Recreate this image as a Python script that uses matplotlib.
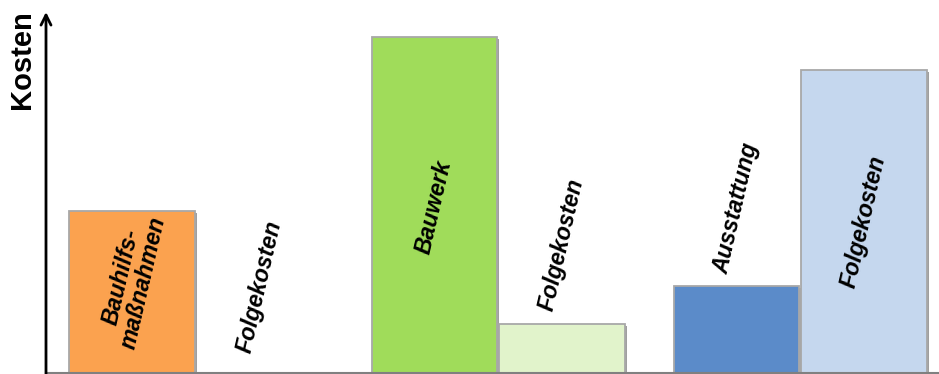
import matplotlib
matplotlib.use("Agg")
import matplotlib.pyplot as plt
import matplotlib.patheffects as pe

plt.rcParams['font.family'] = ['Liberation Sans', 'DejaVu Sans']

# Data
labels = ["Bauhilfs-\nmaßnahmen", "Folgekosten", "Bauwerk", "Folgekosten", "Ausstattung", "Folgekosten"]
values = [45, 0, 93, 13.5, 24, 84]
colors = ["#FBA24F", "#FFFFFF", "#A0DC5A", "#E1F3CB", "#5B8BC9", "#C5D7EE"]
label_y = [25.8, 24.0, 46.0, 35.5, 45.7, 41.8]
groups = [0, 0, 1, 1, 2, 2]
members = [0, 1, 0, 1, 0, 1]

group_gap = 2.36
positions = [g * group_gap + m for g, m in zip(groups, members)]

fig = plt.figure(figsize=(9.39, 3.74), dpi=100)
ax = fig.add_axes([46/939, 1/374, (939-46)/939, 361/374])

for x, v, c in zip(positions, values, colors):
    if v > 0:
        ax.bar(x, v, width=0.977, color=c, edgecolor="#A8A8A8", linewidth=1.3,
               path_effects=[pe.SimplePatchShadow(offset=(1.5, -1.5), shadow_rgbFace="#606060", alpha=0.6),
                             pe.Normal()], zorder=2)

for x, ly, lab in zip(positions, label_y, labels):
    ax.text(x, ly, lab, rotation=77, ha="center", va="center", fontsize=16.5,
            fontweight="bold", fontstyle="italic", color="black",
            linespacing=1.0, rotation_mode="anchor", zorder=3)

ax.set_xlim(-0.672, positions[-1] + 0.586)
ax.set_ylim(0, 100)

for s in ["top", "right", "left"]:
    ax.spines[s].set_visible(False)
ax.spines["bottom"].set_color("#808080")
ax.spines["bottom"].set_linewidth(1.5)
ax.set_xticks([])
ax.set_yticks([])

ax.annotate("", xy=(0, 1.0), xytext=(0, -0.01), xycoords="axes fraction",
            arrowprops=dict(arrowstyle="->", color="black", lw=2, mutation_scale=18,
                            shrinkA=0, shrinkB=0), annotation_clip=False)

fig.text(22/939, 1 - 60/374, "Kosten", rotation=90, ha="center", va="center",
         fontsize=21, fontweight="bold", color="black")

fig.savefig("out.png", dpi=100)
